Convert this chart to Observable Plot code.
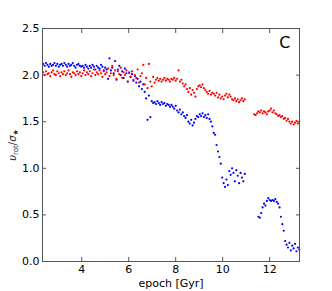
<!DOCTYPE html>
<html><head><meta charset="utf-8">
<script src="https://cdn.jsdelivr.net/npm/d3@7"></script>
<script src="https://cdn.jsdelivr.net/npm/@observablehq/plot@0.6"></script>
<style>body{margin:0;background:#fff}</style>
</head><body><div id="chart"></div>
<script>
const epoch = [
2.36,2.42,2.48,2.54,2.60,2.66,2.72,2.78,2.84,2.90,
2.96,3.02,3.08,3.14,3.20,3.26,3.32,3.38,3.44,3.50,
3.56,3.62,3.68,3.74,3.80,3.86,3.92,3.98,4.04,4.10,
4.16,4.22,4.28,4.34,4.40,4.46,4.52,4.58,4.64,4.70,
4.76,4.82,4.88,4.94,5.00,5.06,5.12,5.18,5.24,5.30,
5.36,5.42,5.48,5.54,5.60,5.66,5.72,5.78,5.84,5.90,
5.96,6.02,6.08,6.14,6.20,6.26,6.32,6.38,6.44,6.50,
6.56,6.62,6.68,6.74,6.80,6.86,6.92,6.98,7.04,7.10,
7.16,7.22,7.28,7.34,7.40,7.46,7.52,7.58,7.64,7.70,
7.76,7.82,7.88,7.94,8.00,8.06,8.12,8.18,8.24,8.30,
8.36,8.42,8.48,8.54,8.60,8.66,8.72,8.78,8.84,8.90,
8.96,9.02,9.08,9.14,9.20,9.26,9.32,9.38,9.44,9.50,
9.56,9.62,9.68,9.74,9.80,9.86,9.92,9.98,10.04,10.10,
10.16,10.22,10.28,10.34,10.40,10.46,10.52,10.58,10.64,10.70,
10.76,10.82,10.88,10.94,
11.34,11.40,11.46,11.52,11.58,11.64,11.70,11.76,11.82,11.88,
11.94,12.00,12.06,12.12,12.18,12.24,12.30,12.36,12.42,12.48,
12.54,12.60,12.66,12.72,12.78,12.84,12.90,12.96,13.02,13.08,
13.14,13.20,13.26
];
const vBlue = [
2.12,2.10,2.13,2.11,2.09,2.12,2.10,2.11,2.13,2.10,
2.12,2.09,2.11,2.12,2.10,2.13,2.11,2.09,2.12,2.10,
2.11,2.13,2.10,2.08,2.11,2.12,2.10,2.09,
2.10,2.08,2.11,2.09,2.07,2.10,2.08,2.11,2.09,2.06,2.10,2.08,2.07,2.11,2.09,2.05,2.08,
2.06,1.96,2.18,2.05,2.08,2.02,2.15,1.95,2.06,2.10,2.00,2.04,1.97,2.07,2.02,1.93,
2.03,1.98,2.01,1.94,1.99,1.92,1.96,1.88,1.93,1.85,1.90,
1.82,1.75,1.52,1.78,1.55,1.72,1.70,
1.71,1.69,1.72,1.70,1.68,1.71,1.69,1.70,1.67,1.69,1.68,1.66,1.68,
1.66,1.64,1.67,1.62,1.60,1.63,1.58,1.60,1.56,1.54,1.57,
1.50,1.48,1.52,1.46,1.49,1.53,1.56,1.55,
1.58,1.56,1.59,1.55,1.57,1.54,1.58,1.53,1.50,1.45,
1.38,1.36,1.25,1.18,1.12,1.05,
0.90,0.84,0.80,0.88,0.82,0.97,0.93,1.00,0.95,0.86,0.98,0.92,0.84,0.95,0.90,0.86,0.94,
null,null,null,0.48,0.47,0.52,0.58,0.62,0.60,0.65,
0.68,0.66,0.65,0.66,0.65,0.67,0.64,0.62,0.58,0.48,
0.40,0.33,0.22,0.18,0.15,0.20,0.12,0.17,0.14,0.19,
0.11,0.15,0.13
];
const vRed = [
2.03,2.00,2.04,2.01,2.02,1.99,2.03,2.05,2.01,2.00,
2.04,2.02,1.99,2.03,2.01,2.04,2.00,2.02,2.05,2.01,
1.98,2.03,2.02,2.00,2.04,2.01,2.03,1.99,
2.02,2.05,2.00,2.03,2.01,2.04,1.99,2.02,2.06,2.00,2.03,2.01,2.05,2.02,1.98,2.04,2.01,
2.03,2.07,1.99,2.02,2.10,2.00,2.05,1.96,2.04,2.01,2.08,1.97,2.03,2.00,2.05,1.93,
2.02,1.98,2.04,1.95,2.00,1.97,2.06,1.92,1.99,2.02,2.11,
1.90,1.97,1.86,2.12,1.93,1.88,1.98,
1.92,1.95,1.97,1.94,1.96,1.93,1.95,1.97,1.94,1.96,1.95,1.93,1.96,
1.95,1.97,1.94,1.96,2.05,1.93,1.95,1.91,1.88,1.90,1.85,
1.82,1.86,1.79,1.84,1.81,1.77,1.85,1.88,
1.89,1.87,1.90,1.86,1.84,1.82,1.80,1.83,1.79,1.81,
1.80,1.78,1.81,1.76,1.79,1.75,
1.77,1.74,1.78,1.80,1.76,1.79,1.77,1.74,1.73,1.75,1.72,1.74,1.71,1.73,1.75,1.72,1.74,
1.58,1.57,1.59,1.61,1.60,1.62,1.59,1.61,1.60,1.58,
1.61,1.62,1.64,1.60,1.62,1.59,1.58,1.56,1.57,1.55,
1.56,1.53,1.54,1.51,1.53,1.50,1.48,1.50,1.47,1.49,
1.51,1.48,1.50
];
const xTicks = [4, 6, 8, 10, 12];
const yTicks = [0, 0.5, 1.0, 1.5, 2.0, 2.5];
const xLabel = "epoch [Gyr]";
const panelLabel = "C";

const blueRows = epoch.map((e, i) => ({epoch: e, v: vBlue[i]})).filter(d => d.v != null);
const redRows = epoch.map((e, i) => ({epoch: e, v: vRed[i]})).filter(d => d.v != null);

const chart = Plot.plot({
  width: 332, height: 291,
  marginLeft: 42, marginRight: 33, marginTop: 28, marginBottom: 30,
  style: {fontFamily: "DejaVu Sans", fontSize: "11px", color: "#000", background: "#fff"},
  x: {domain: [2.33, 13.27]},
  y: {domain: [0, 2.5]},
  marks: [
    Plot.dot(blueRows, {x: "epoch", y: "v", r: 1.1, fill: "#0000ff", stroke: null}),
    Plot.dot(redRows, {x: "epoch", y: "v", r: 1.1, fill: "#ff0000", stroke: null}),
    Plot.frame({stroke: "#555"}),
    Plot.axisX({ticks: xTicks, tickSize: -4, tickPadding: 8, label: null, stroke: "#555", fill: "#000"}),
    Plot.axisX({anchor: "top", ticks: xTicks, tickSize: -4, tickFormat: () => "", label: null, stroke: "#555"}),
    Plot.axisY({ticks: yTicks, tickSize: -4, tickPadding: 7, tickFormat: d3.format(".1f"), label: null, stroke: "#555", fill: "#000"}),
    Plot.axisY({anchor: "right", ticks: yTicks, tickSize: -4, tickFormat: () => "", label: null, stroke: "#555"}),
    Plot.text([xLabel], {frameAnchor: "bottom", dy: 22, lineAnchor: "middle", fontSize: 11, fill: "#000"}),
    Plot.text([panelLabel], {frameAnchor: "top-right", dx: -9, dy: 8, lineAnchor: "top", textAnchor: "end", fontSize: 16, fill: "#000"})
  ]
});
document.getElementById("chart").append(chart);

// y-axis label with sub/superscripts
const svg = d3.select(chart);
const yl = svg.append("text")
  .attr("transform", "translate(16,145) rotate(-90)")
  .attr("text-anchor", "middle")
  .attr("font-family", "DejaVu Sans")
  .attr("font-size", 10)
  .attr("fill", "#222");
yl.append("tspan").attr("font-style", "italic").text("υ");
yl.append("tspan").attr("font-size", 7).attr("dy", 2).text("rot");
yl.append("tspan").attr("dy", -2).text("/");
yl.append("tspan").attr("font-style", "italic").text("σ");
yl.append("tspan").attr("font-size", 7).attr("dy", 2).text("★");
</script>
</body></html>
